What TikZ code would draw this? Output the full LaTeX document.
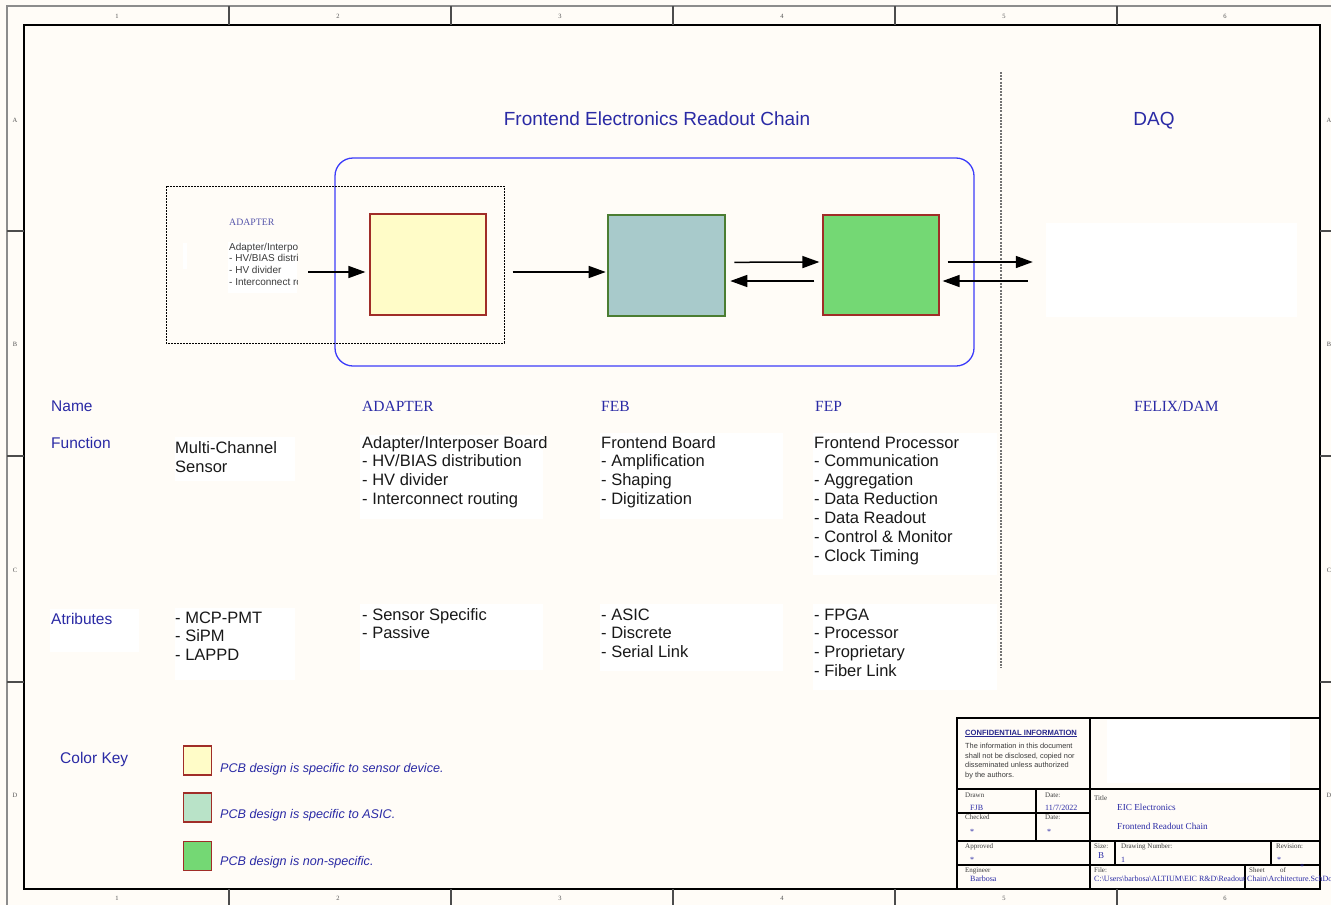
\documentclass[tikz,border=0pt]{standalone}
\usepackage{fontspec}
\setmainfont{Liberation Serif}
\setsansfont{Liberation Sans}
\usetikzlibrary{arrows.meta}
\definecolor{bg}{RGB}{255,252,247}
\definecolor{lblue}{RGB}{42,42,165}
\definecolor{navy}{RGB}{40,40,140}
\definecolor{boxred}{RGB}{160,45,40}
\definecolor{pcbyellow}{RGB}{255,252,200}
\definecolor{pcbteal}{RGB}{168,202,203}
\definecolor{pcbgreen}{RGB}{116,216,116}
\definecolor{keyteal}{RGB}{185,227,200}
\definecolor{tealedge}{RGB}{75,125,50}
\definecolor{chainblue}{RGB}{60,60,250}
\definecolor{txt}{RGB}{25,25,25}
\definecolor{smallblue}{RGB}{85,85,170}
\begin{document}
\begin{tikzpicture}[x=1pt,y=-1pt,
  hdr/.style={font=\sffamily\fontsize{19}{22}\selectfont, text=lblue, anchor=base, inner sep=0},
  lbl/.style={font=\sffamily\fontsize{15.5}{18}\selectfont, text=lblue, anchor=base west, inner sep=0},
  colname/.style={font=\rmfamily\fontsize{15.5}{18}\selectfont, text=lblue, anchor=base west, inner sep=0},
  body/.style={font=\sffamily\fontsize{16.5}{18.9}\selectfont, text=txt, anchor=base west, inner sep=0, align=left},
  pcb/.style={draw=boxred, line width=1.2, inner sep=0},
  arr/.style={-{Triangle[length=17pt,width=12pt]}, line width=1.5},
  keytxt/.style={font=\sffamily\itshape\fontsize{12.6}{15}\selectfont, text=lblue, anchor=base west, inner sep=0},
  tb/.style={font=\rmfamily\fontsize{7}{8}\selectfont, text=txt!85, anchor=base west, inner sep=0},
  tbv/.style={font=\rmfamily\fontsize{8}{9}\selectfont, text=lblue, anchor=base west, inner sep=0},
  tick/.style={font=\rmfamily\fontsize{6.5}{7}\selectfont, text=txt!75, inner sep=0},
  frame/.style={draw=black, line width=1.8},
  tbline/.style={draw=black, line width=1.6},
  divider/.style={draw=black!70, line width=1.2}
]
\useasboundingbox (0,0) rectangle (1331,905);
\clip (0,0) rectangle (1331,905);
\fill[bg] (0,0) rectangle (1331,905);

% ---- border zones ----
\draw[draw=black!45, line width=2] (7,905) -- (7,6) -- (1331,6);
\draw[frame] (24,25) rectangle (1320,889);
\foreach \x in {229,451,673,895,1117} {
  \draw[divider] (\x,6) -- (\x,25);
  \draw[divider] (\x,889) -- (\x,905);
}
\foreach \y in {231,456,682} {
  \draw[divider] (7,\y) -- (24,\y);
  \draw[divider] (1320,\y) -- (1331,\y);
}
\foreach \t [count=\i] in {117,338,560,782,1004,1225} {
  \node[tick] (tt\i) at (\t,16) {\i};
  \node[tick] (bt\i) at (\t,898) {\i};
}
\foreach \l/\y [count=\i] in {A/120,B/344,C/570,D/795} {
  \node[tick] (ll\i) at (15,\y) {\l};
  \node[tick] (rl\i) at (1329,\y) {\l};
}

% ---- headings ----
\node[hdr] (title) at (657,125) {Frontend Electronics Readout Chain};
\node[hdr] (daqtitle) at (1154,125) {DAQ};

% ---- chain enclosure ----
\draw[chainblue, line width=1.3, rounded corners=18] (335,158) rectangle (974,366);
\draw[black, line width=1, dash pattern=on 2pt off 1pt] (166,186) rectangle (504,343);
\draw[black!55, line width=1.6, dash pattern=on 2pt off 1.2pt] (1001,72) -- (1001,668);

% adapter inner text
\node[font=\rmfamily\fontsize{9.8}{11}\selectfont, text=smallblue, anchor=base west, inner sep=0] (adname) at (229,225) {ADAPTER};
\fill[white] (183,243) rectangle (187,269);
\node[fill=white, minimum width=69, minimum height=51, inner sep=0] (adtext) at (262.5,267.5) {};
\begin{scope}
\clip (228,238) rectangle (297,295);
\node[font=\sffamily\fontsize{10}{11.7}\selectfont, text=txt!85, anchor=base west, inner sep=0, align=left] (adlines) at (229,285.1)
  {Adapter/Interposer Board\\- HV/BIAS distribution\\- HV divider\\- Interconnect routing};
\end{scope}

% ---- PCB boxes ----
\node[pcb, fill=pcbyellow, minimum width=116, minimum height=101] (yellow) at (428,264.5) {};
\node[pcb, draw=tealedge, line width=2.6, fill=pcbteal, minimum width=117, minimum height=101] (teal) at (666.5,265.5) {};
\node[pcb, fill=pcbgreen, minimum width=116, minimum height=100] (green) at (881,265) {};
\node[fill=white, minimum width=251, minimum height=94, inner sep=0] (daq) at (1171.5,270) {};

% ---- connectors ----
\draw[arr] ([xshift=11,yshift=-4.5]adtext.east) -- ([xshift=-4,yshift=-7.5]yellow.west);
\draw[arr] ([xshift=26,yshift=-7.5]yellow.east) -- ([xshift=-1,yshift=-6.5]teal.west);
\draw[arr] ([xshift=8,yshift=3.2]teal.east) -- ([xshift=-3,yshift=3]green.west);
\draw[arr] ([xshift=-8,yshift=-16]green.west) -- ([xshift=4,yshift=-15.5]teal.east);
\draw[arr] ([xshift=8,yshift=3]green.east) -- ([xshift=-13,yshift=8]daq.west);
\draw[arr] ([xshift=-18,yshift=-11]daq.west) -- ([xshift=3,yshift=-16]green.east);

% ---- table ----
\node[lbl] (name) at (51,411) {Name};
\node[lbl] (function) at (51,448) {Function};
\fill[white] (50,609) rectangle (139,652);
\node[lbl] (atrib) at (51,624) {Atributes};

\node[colname] (cadapter) at (362,411) {ADAPTER};
\node[colname] (cfeb) at (601,411) {FEB};
\node[colname] (cfep) at (815,411) {FEP};
\node[colname] (cfelix) at (1134,411) {FELIX/DAM};

\fill[white] (175,437) rectangle (295,481);
\fill[white] (360,435) rectangle (543,519);
\fill[white] (600,433) rectangle (783,519);
\fill[white] (813,433) rectangle (997,575);
\fill[white] (175,608) rectangle (295,680);
\fill[white] (360,604) rectangle (543,670);
\fill[white] (600,604) rectangle (783,671);
\fill[white] (813,604) rectangle (997,690);

% (multi-line nodes: base anchor = baseline of the last line)
\node[body] (fsensor) at (175,472.4) {Multi-Channel\\Sensor};
\node[body] (fadapter) at (362,504.7) {Adapter/Interposer Board\\- HV/BIAS distribution\\- HV divider\\- Interconnect routing};
\node[body] (ffeb) at (601,504.7) {Frontend Board\\- Amplification\\- Shaping\\- Digitization};
\node[body] (ffep) at (814,561.4) {Frontend Processor\\- Communication\\- Aggregation\\- Data Reduction\\- Data Readout\\- Control \& Monitor\\- Clock Timing};

\node[body] (asensor) at (175,660.8) {- MCP-PMT\\- SiPM\\- LAPPD};
\node[body] (aadapter) at (362,638.9) {- Sensor Specific\\- Passive};
\node[body] (afeb) at (601,657.8) {- ASIC\\- Discrete\\- Serial Link};
\node[body] (afep) at (814,676.7) {- FPGA\\- Processor\\- Proprietary\\- Fiber Link};

% ---- color key ----
\node[lbl] (colorkey) at (60,763) {Color Key};
\node[pcb, fill=pcbyellow, minimum width=28, minimum height=29] (k1) at (197.5,760.5) {};
\node[pcb, fill=keyteal, minimum width=28, minimum height=29] (k2) at (197.5,807.5) {};
\node[pcb, fill=pcbgreen, minimum width=28, minimum height=29] (k3) at (197.5,856) {};
\node[keytxt] (kt1) at (220,772) {PCB design is specific to sensor device.};
\node[keytxt] (kt2) at (220,818) {PCB design is specific to ASIC.};
\node[keytxt] (kt3) at (220,865) {PCB design is non-specific.};

% ---- title block ----
\draw[tbline] (957,889) -- (957,718) -- (1320,718);
\draw[tbline] (1090,718) -- (1090,889);
\draw[tbline] (957,789) -- (1320,789);
\draw[tbline] (957,813) -- (1090,813);
\draw[tbline] (1036,789) -- (1036,841);
\draw[tbline] (957,841) -- (1320,841);
\draw[tbline] (957,865) -- (1320,865);
\draw[tbline] (1115,841) -- (1115,865);
\draw[tbline] (1271,841) -- (1271,865);
\draw[tbline] (1245,865) -- (1245,889);
\fill[white] (1107,720) rectangle (1290,783);

\node[font=\sffamily\bfseries\fontsize{7.6}{9}\selectfont, text=navy, anchor=base west, inner sep=0] (conf) at (965,735) {\underline{CONFIDENTIAL INFORMATION}};
\node[font=\sffamily\fontsize{7.4}{9.8}\selectfont, text=txt!85, anchor=base west, inner sep=0, align=left] (confbody) at (965,777.7)
  {The information in this document\\shall not be disclosed, copied nor\\disseminated unless authorized\\by the authors.};

\node[tb] (drawn) at (965,797) {Drawn};
\node[tbv] (fjb) at (970,810) {FJB};
\node[tb] (date1) at (1045,797) {Date:};
\node[tbv] (datev) at (1045,810) {11/7/2022};
\node[tb] (checked) at (965,819.5) {Checked};
\node[tbv] (checkv) at (970,834) {*};
\node[tb] (date2) at (1045,819.5) {Date:};
\node[tbv] (date2v) at (1047,834) {*};
\node[tb] (titlel) at (1094,800) {Title};
\node[font=\rmfamily\fontsize{9.2}{11}\selectfont, text=lblue, anchor=base west, inner sep=0] (tt1v) at (1117,810) {EIC Electronics};
\node[font=\rmfamily\fontsize{9.2}{11}\selectfont, text=lblue, anchor=base west, inner sep=0] (tt2v) at (1117,829) {Frontend Readout Chain};
\node[tb] (approved) at (965,848.5) {Approved};
\node[tbv] (apv) at (970,862) {*};
\node[tb] (size) at (1094,848.5) {Size:};
\node[font=\rmfamily\fontsize{9}{10}\selectfont, text=lblue, anchor=base west, inner sep=0] (sizev) at (1098,858.5) {B};
\node[tb] (dwgnum) at (1121,848.5) {Drawing Number:};
\node[tbv] (dwgv) at (1121,862) {1};
\node[tb] (rev) at (1276,848.5) {Revision:};
\node[tbv] (revv) at (1277,862) {*};
\node[tb] (eng) at (965,872) {Engineer};
\node[tbv] (engv) at (970,881) {Barbosa};
\node[tb] (file) at (1094,872) {File:};
\node[tbv] (filev) at (1094,881) {C:\textbackslash Users\textbackslash barbosa\textbackslash ALTIUM\textbackslash EIC R\&D\textbackslash Readout Chain\textbackslash Architecture.SchDoc};
\node[tb] (sheet) at (1249,872) {Sheet};
\node[tb] (of) at (1280,872) {of};
\node[tbv] (sheetv) at (1300,869) {*};
\end{tikzpicture}
\end{document}
